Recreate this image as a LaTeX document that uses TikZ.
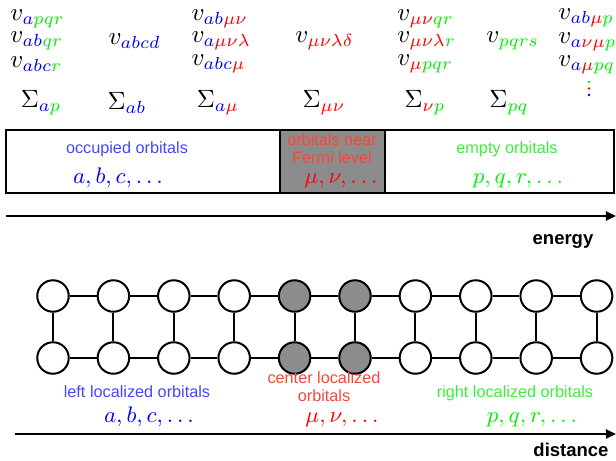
\documentclass[tikz,border=0pt]{standalone}
\usepackage{fontspec}
\setsansfont{Liberation Sans}
\usepackage{xcolor}
\usetikzlibrary{arrows.meta, positioning}
\definecolor{occblue}{HTML}{0000FF}
\definecolor{ferred}{HTML}{FF0000}
\definecolor{virgreen}{HTML}{00EE00}
\definecolor{occtext}{HTML}{4646FF}
\definecolor{fertext}{HTML}{F4483A}
\definecolor{virtext}{HTML}{3CEE3C}
\definecolor{fermigray}{HTML}{8C8C8C}
\newcommand{\occ}[1]{\textcolor{occblue}{#1}}
\newcommand{\fer}[1]{\textcolor{ferred}{#1}}
\newcommand{\vir}[1]{\textcolor{virgreen}{#1}}

\begin{document}
\begin{tikzpicture}[
  x=0.4pt, y=-0.4pt,
  amp/.style={anchor=west, inner sep=0pt},
  sig/.style={inner sep=0pt},
  idx/.style={anchor=base, inner sep=0pt, font=\fontsize{9.2}{11}\selectfont},
  lbl/.style={font=\fontsize{6.5}{7.2}\selectfont\sffamily, align=center, inner sep=0pt},
  axlbl/.style={anchor=base, font=\fontsize{7.4}{8}\selectfont\sffamily\bfseries, inner sep=0pt},
  orb/.style={circle, draw, line width=0.8pt, fill=white, minimum size=12.6pt, inner sep=0pt},
  core/.style={orb, fill=fermigray},
  bond/.style={line width=0.8pt},
  axis/.style={line width=0.8pt, -{Triangle[length=4pt, width=3.6pt]}},
]
  \useasboundingbox (0,0) rectangle (616,461);

  % two-electron integrals
  \node[amp] (v1a) at (10,19) {$v_{\occ{a}\vir{pqr}}$};
  \node[amp] (v1b) at (10,41) {$v_{\occ{ab}\vir{qr}}$};
  \node[amp] (v1c) at (10,64) {$v_{\occ{abc}\vir{r}}$};
  \node[amp] (v2) at (108,41) {$v_{\occ{abcd}}$};
  \node[amp] (v3a) at (191,19) {$v_{\occ{ab}\fer{\mu\nu}}$};
  \node[amp] (v3b) at (191,41) {$v_{\occ{a}\fer{\mu\nu\lambda}}$};
  \node[amp] (v3c) at (191,64) {$v_{\occ{abc}\fer{\mu}}$};
  \node[amp] (v4) at (295,41) {$v_{\fer{\mu\nu\lambda\delta}}$};
  \node[amp] (v5a) at (397,19) {$v_{\fer{\mu\nu}\vir{qr}}$};
  \node[amp] (v5b) at (397,41) {$v_{\fer{\mu\nu\lambda}\vir{r}}$};
  \node[amp] (v5c) at (397,64) {$v_{\fer{\mu}\vir{pqr}}$};
  \node[amp] (v6) at (486,41) {$v_{\vir{pqrs}}$};
  \node[amp] (v7a) at (558,18) {$v_{\occ{ab}\fer{\mu}\vir{p}}$};
  \node[amp] (v7b) at (558,42) {$v_{\occ{a}\fer{\nu\mu}\vir{p}}$};
  \node[amp] (v7c) at (558,65) {$v_{\occ{a}\fer{\mu}\vir{pq}}$};
  \foreach \c/\y in {virgreen/82, ferred/88.5, occblue/95}
    \fill[\c] (589,\y) circle (0.55pt);

  % self-energies
  \node[sig] (s1) at (41,103) {$\Sigma_{\occ{a}\vir{p}}$};
  \node[sig] (s2) at (127,103) {$\Sigma_{\occ{ab}}$};
  \node[sig] (s3) at (218,103) {$\Sigma_{\occ{a}\fer{\mu}}$};
  \node[sig] (s4) at (324,103) {$\Sigma_{\fer{\mu\nu}}$};
  \node[sig] (s5) at (425,103) {$\Sigma_{\fer{\nu}\vir{p}}$};
  \node[sig] (s6) at (509,103) {$\Sigma_{\vir{pq}}$};

  % energy band
  \draw[bond] (6,130) rectangle (614,193);
  \filldraw[bond, fill=fermigray] (280,130) rectangle (385,193);
  \node[lbl, anchor=base, text=occtext] (occ) at (127,153) {occupied orbitals};
  \node[idx, text=occblue] (occidx) at (118,183) {$a,b,c,\ldots$};
  \node[lbl, text=fertext] (fer) at (332,149) {orbitals near\\Fermi level};
  \node[idx, text=ferred] (feridx) at (341,183) {$\mu,\nu,\ldots$};
  \node[lbl, anchor=base, text=virtext] (vir) at (507,153) {empty orbitals};
  \node[idx, text=virgreen] (viridx) at (518,183) {$p,q,r,\ldots$};

  \coordinate (e0) at (6,216);
  \coordinate (e1) at (616,216);
  \draw[axis] (e0) -- (e1);
  \node[axlbl] (energy) at (563,244) {energy};

  % ladder of localized orbitals
  \foreach \i/\s in {0/orb,1/orb,2/orb,3/orb,4/core,5/core,6/orb,7/orb,8/orb,9/orb} {
    \node[\s] (t\i) at ({53+60.4*\i},296) {};
    \node[\s] (b\i) at ({53+60.4*\i},358) {};
  }
  \foreach \i in {0,...,9}
    \draw[bond] (t\i) -- (b\i);
  \foreach \i [count=\j from 1] in {0,...,8} {
    \draw[bond] (t\i) -- (t\j);
    \draw[bond] (b\i) -- (b\j);
  }

  \node[lbl, anchor=base, text=occtext] (left) at (137,397) {left localized orbitals};
  \node[idx, text=occblue] (leftidx) at (149,422) {$a,b,c,\ldots$};
  \node[lbl, text=fertext] (center) at (324,387) {center localized\\orbitals};
  \node[idx, text=ferred] (centeridx) at (342,422) {$\mu,\nu,\ldots$};
  \node[lbl, anchor=base, text=virtext] (right) at (515,397) {right localized orbitals};
  \node[idx, text=virgreen] (rightidx) at (532,422) {$p,q,r,\ldots$};

  \coordinate (d0) at (15,434);
  \coordinate (d1) at (616,434);
  \draw[axis] (d0) -- (d1);
  \node[axlbl] (distance) at (571,456) {distance};
\end{tikzpicture}
\end{document}
